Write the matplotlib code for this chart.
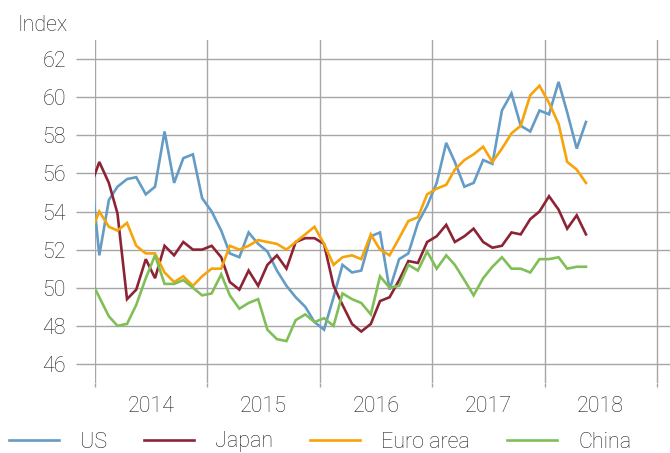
import numpy as np
import matplotlib
matplotlib.use("Agg")
import matplotlib.pyplot as plt
import matplotlib.dates as mdates

# Monthly data, Dec 2013 .. May 2018 (points at mid-month)
start_month = "2013-12"
end_month = "2018-06"

us = [56.8, 51.7, 54.6, 55.3, 55.7, 55.8, 54.9, 55.3, 58.2, 55.5, 56.8, 57.0, 54.7,
      54.0, 53.0, 51.8, 51.6, 52.9, 52.3, 51.9, 50.9, 50.1, 49.5, 49.0, 48.2,
      47.8, 49.5, 51.2, 50.8, 50.9, 52.7, 52.9, 49.9, 51.5, 51.8, 53.4, 54.3,
      55.5, 57.6, 56.6, 55.3, 55.5, 56.7, 56.5, 59.3, 60.2, 58.5, 58.2, 59.3,
      59.1, 60.8, 59.2, 57.3, 58.7]
japan = [55.2, 56.6, 55.5, 53.9, 49.4, 49.9, 51.5, 50.5, 52.2, 51.7, 52.4, 52.0, 52.0,
         52.2, 51.6, 50.3, 49.9, 50.9, 50.1, 51.2, 51.7, 51.0, 52.4, 52.6, 52.6,
         52.3, 50.1, 49.1, 48.1, 47.7, 48.1, 49.3, 49.5, 50.4, 51.4, 51.3, 52.4,
         52.7, 53.3, 52.4, 52.7, 53.1, 52.4, 52.1, 52.2, 52.9, 52.8, 53.6, 54.0,
         54.8, 54.1, 53.1, 53.8, 52.8]
euro = [52.8, 54.0, 53.2, 53.0, 53.4, 52.2, 51.8, 51.8, 50.8, 50.3, 50.6, 50.1, 50.6,
        51.0, 51.0, 52.2, 52.0, 52.2, 52.5, 52.4, 52.3, 52.0, 52.4, 52.8, 53.2,
        52.3, 51.2, 51.6, 51.7, 51.5, 52.8, 52.0, 51.7, 52.6, 53.5, 53.7, 54.9,
        55.2, 55.4, 56.2, 56.7, 57.0, 57.4, 56.6, 57.3, 58.1, 58.5, 60.1, 60.6,
        59.7, 58.6, 56.6, 56.2, 55.5]
china = [50.5, 49.5, 48.5, 48.0, 48.1, 49.1, 50.5, 51.7, 50.2, 50.2, 50.4, 50.0, 49.6,
         49.7, 50.7, 49.6, 48.9, 49.2, 49.4, 47.8, 47.3, 47.2, 48.3, 48.6, 48.2,
         48.4, 48.0, 49.7, 49.4, 49.2, 48.6, 50.6, 50.0, 50.1, 51.2, 50.9, 51.9,
         51.0, 51.7, 51.2, 50.4, 49.6, 50.5, 51.1, 51.6, 51.0, 51.0, 50.8, 51.5,
         51.5, 51.6, 51.0, 51.1, 51.1]

series_names = ["US", "Japan", "Euro area", "China"]
series_colors = ["#659cc5", "#8c2435", "#f7a30c", "#80bf57"]
year_labels = ["2014", "2015", "2016", "2017", "2018"]
y_ticks = [46, 48, 50, 52, 54, 56, 58, 60, 62]

months = np.arange(start_month, end_month, dtype="datetime64[M]")
dates = months.astype("datetime64[D]") + np.timedelta64(14, "D")
dates = dates.astype("datetime64[s]").astype(object)

plt.rcParams["font.family"] = ["Roboto", "DejaVu Sans"]
plt.rcParams["font.weight"] = "light"
FS = 15.5

W, H = 670, 453
fig = plt.figure(figsize=(W / 100, H / 100), dpi=100)
ax = fig.add_axes([95 / W, 1 - 383 / H, 1 - 95 / W, (383 - 40) / H])

grid_c = "#a6a6a6"
text_c = "#222222"
for vals, name, col in zip([us, japan, euro, china], series_names, series_colors):
    ax.plot(dates, vals, color=col, lw=1.9, label=name, solid_joinstyle="miter")

ax.set_ylim(45, 63)
x0 = mdates.datestr2num("2014-01-01")
x_end = mdates.datestr2num("2019-01-01")
ax.set_xlim(x0, x_end + 42)

ax.set_yticks(y_ticks)
ax.set_yticklabels([str(v) for v in y_ticks])
ax.tick_params(axis="y", length=14, width=1.0, color=grid_c, pad=7,
               labelsize=FS, labelcolor=text_c)

year_starts = [mdates.datestr2num(f"{y}-01-01") for y in range(2014, 2020)]
mid_years = [mdates.datestr2num(f"{y}-07-02") for y in year_labels]
ax.set_xticks(year_starts)
ax.set_xticklabels([""] * len(year_starts))
ax.set_xticks(mid_years, minor=True)
ax.set_xticklabels(year_labels, minor=True)
ax.tick_params(axis="x", which="major", length=3, width=1.0, color=grid_c)
ax.tick_params(axis="x", which="minor", length=0, pad=9, labelsize=FS,
               labelcolor=text_c)

ax.grid(True, which="major", color=grid_c, lw=1.0)
ax.set_axisbelow(True)
for s in ax.spines.values():
    s.set_visible(False)

fig.text(17 / W, 1 - 31 / H, "Index", fontsize=FS, color=text_c,
         ha="left", va="baseline")

fig.legend(loc="center left", bbox_to_anchor=(9 / W, 1 - 442 / H), ncol=4,
           frameon=False, borderpad=0, borderaxespad=0, fontsize=FS,
           handlelength=2.3, handletextpad=1.0, columnspacing=1.72,
           labelcolor=text_c)

fig.savefig("out.png", dpi=100)
